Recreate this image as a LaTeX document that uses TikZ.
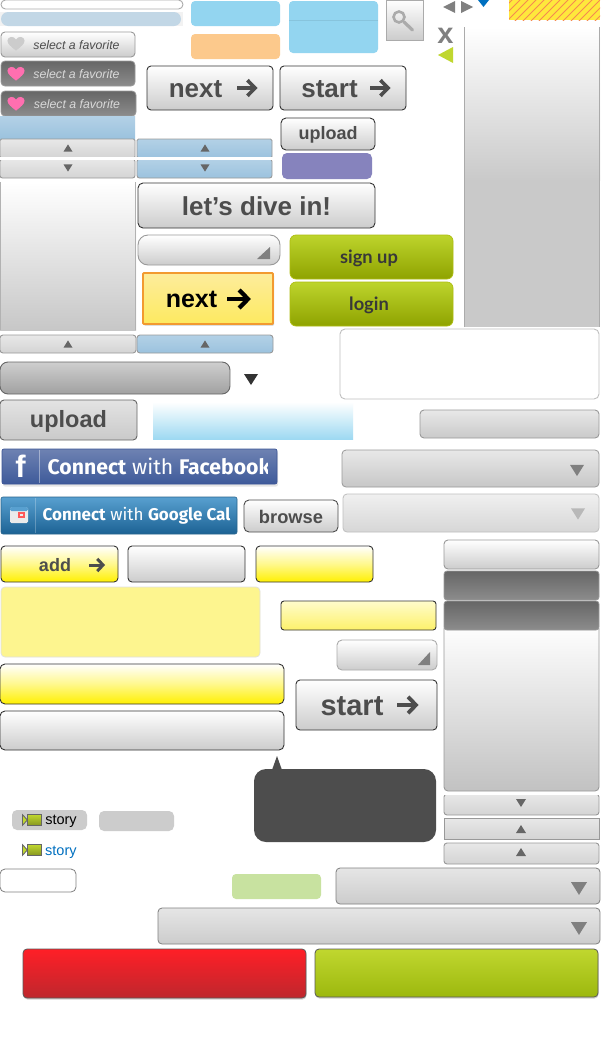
\documentclass[tikz,border=0pt]{standalone}
\usepackage{fontspec}
\setmainfont{Liberation Sans}
\newfontfamily\fira{Fira Sans}
\newfontfamily\lato{Lato}
\usetikzlibrary{shadows}
\definecolor{txtgray}{HTML}{4D4D4D}
\definecolor{edgegray}{HTML}{999999}
\definecolor{paleblue}{HTML}{93D5F0}
\definecolor{yel}{HTML}{FFF000}
\definecolor{lime}{HTML}{C0D72F}
\definecolor{bluetop}{HTML}{B3D1E6}
\definecolor{bluebot}{HTML}{9BC2DE}
\definecolor{pillblue}{HTML}{C2D7E6}
\definecolor{swor}{HTML}{FCC98C}
\definecolor{purp}{HTML}{8683BD}
\definecolor{heartpink}{HTML}{FF6FB0}
\definecolor{hatchy}{HTML}{FFE83C}
\definecolor{hatcho}{HTML}{F58A50}
\definecolor{navy}{HTML}{0070C0}
\definecolor{ytop}{HTML}{FDEC9C}
\definecolor{ybot}{HTML}{FDEA60}
\definecolor{oedge}{HTML}{F29A30}
\definecolor{grtop}{HTML}{BDD42C}
\definecolor{grbot}{HTML}{8FA300}
\definecolor{gredge}{HTML}{AEBD10}
\definecolor{fbtop}{HTML}{6E82B2}
\definecolor{fbbot}{HTML}{3E5A9A}
\definecolor{fbedge}{HTML}{3C5596}
\definecolor{gctop}{HTML}{58A0D0}
\definecolor{gcbot}{HTML}{1C6294}
\definecolor{gcedge}{HTML}{28648C}
\definecolor{paley}{HTML}{FDF58F}
\definecolor{yltop}{HTML}{FFFCCC}
\definecolor{ylbot}{HTML}{FDF16A}
\definecolor{swgr}{HTML}{C8E2A0}
\definecolor{redtop}{HTML}{FF1F27}
\definecolor{redbot}{HTML}{BE272D}
\definecolor{lgbot}{HTML}{9CB80E}
\tikzset{
  box/.style={anchor=north west,inner sep=0pt,outer sep=0pt,rounded corners=#1},
  box/.default=4pt,
  silver/.style={top color=white,bottom color=black!20,draw=black!80,line width=.9pt,text=txtgray},
  softsilver/.style={top color=white,bottom color=black!20,draw=edgegray,line width=.9pt,text=txtgray},
  darkbar/.style={top color=black!60,bottom color=black!45,draw=black!40,line width=.8pt},
  graybtn/.style={top color=black!9,bottom color=black!17,draw=edgegray,line width=.9pt},
  lightdrop/.style={top color=black!10,bottom color=black!20,draw=black!50,line width=.8pt},
  bluebtn/.style={top color=bluetop,bottom color=bluebot,draw=edgegray,line width=.9pt},
  yellowbtn/.style={top color=white,bottom color=yel,middle color=yel!45,draw=black!80,line width=.9pt,text=txtgray},
  greenbtn/.style={top color=grtop,bottom color=grbot,draw=gredge,line width=.7pt,font=\lato\bfseries\fontsize{18.3}{18.3}\selectfont,text=black!78},
  flat/.style={fill=#1,draw=none},
  lab/.style={font=\bfseries\fontsize{#1}{#1}\selectfont},
  favtxt/.style={font=\itshape\fontsize{12.3}{12.3}\selectfont},
  soc/.style={font=\fira\fontsize{#1}{#1}\selectfont,text=white},
}
\newcommand{\rb}[1]{\raisebox{0pt}[\dimexpr\height+2pt\relax][\depth]{#1}}
\newcommand{\bx}[7][4pt]{\node[box=#1,minimum width={(#5-#3)*1pt},minimum height={(#6-#4)*1pt},#7] (#2) at (#3,#4)}
\newcommand{\heartg}[4]{\fill[#4,shift={(#1,#2)},scale=#3] (0,7) .. controls (-5,3) and (-9,0) .. (-9,-3.5) .. controls (-9,-8) and (-2,-9) .. (0,-4.5) .. controls (2,-9) and (9,-8) .. (9,-3.5) .. controls (9,0) and (5,3) .. (0,7) -- cycle;}
\newcommand{\arrowg}[5]{\draw[#4,line width=#5,line cap=butt,miter limit=10] (#1-#3,#2) -- (#1+#3-1,#2);\draw[#4,line width=#5,line join=miter,miter limit=10] (#1+.1*#3,#2-.82*#3) -- (#1+#3-1,#2) -- (#1+.1*#3,#2+.82*#3);}
\newcommand{\triup}[4]{\fill[#4] (#1-#3,#2+.8*#3) -- (#1,#2-.8*#3) -- (#1+#3,#2+.8*#3) -- cycle;}
\newcommand{\tridn}[4]{\fill[#4] (#1-#3,#2-.8*#3) -- (#1,#2+.8*#3) -- (#1+#3,#2-.8*#3) -- cycle;}
\newcommand{\camera}[2]{\shade[top color=lime,bottom color=lime!70!black,draw=black!60,line width=.5pt] (#1+5,#2+1) rectangle (#1+19,#2+12);\fill[black!60] (#1,#2) -- (#1+6,#2+6.5) -- (#1,#2+13) -- cycle;\fill[lime] (#1+1,#2+2.5) -- (#1+4.5,#2+6.5) -- (#1+1,#2+10.5) -- cycle;}
\begin{document}
\begin{tikzpicture}[x=1pt,y=-1pt]
\useasboundingbox (0,0) rectangle (600,1039);
\fill[white] (0,0) rectangle (600,1039);
% top-left pills
\bx[4.5pt]{pillA}{1}{0}{183}{9}{draw=black!33,line width=.9pt,fill=white}{};
\fill[black!5] (0,12) rectangle (183,26);
\bx[7pt]{pillB}{1}{12}{181}{26}{flat=pillblue}{};
% favorites
\bx[4pt]{favA}{1}{32}{135}{57}{softsilver,favtxt}{\rb{\hspace*{17pt}select a favorite}};
\heartg{16}{44}{.95}{black!20}
\bx[4pt]{favB}{1}{61}{135}{86}{darkbar,favtxt,text=black!15}{\rb{\hspace*{17pt}select a favorite}};
\heartg{16}{74}{.95}{heartpink}
\bx[4pt]{favC}{1}{91}{136}{116}{darkbar,favtxt,text=black!15}{\rb{\hspace*{17pt}select a favorite}};
\heartg{16}{104}{.95}{heartpink}
% steppers
\bx[0pt]{blueTop}{0}{116}{135}{139}{top color=bluetop,bottom color=bluebot}{};
\bx[1.5pt]{grayUp}{0}{139}{135}{158}{graybtn}{};
\bx[2.5pt]{grayDn}{0}{159}{135}{178}{graybtn}{};
\bx[1.5pt]{blueUp}{137}{139}{272}{158}{bluebtn}{};
\bx[2.5pt]{blueDn}{137}{159}{272}{178}{bluebtn}{};
\fill[white] (-1,157) rectangle (273,160);
\triup{68}{148}{4.5}{black!60}\tridn{68}{168}{4.5}{black!60}
\triup{205}{148}{4.5}{black!60}\tridn{205}{168}{4.5}{black!60}
% flat swatches
\bx[4pt]{swBlue}{191}{1}{280}{26}{flat=paleblue}{};
\bx[4pt]{swOrange}{191}{34}{280}{59}{flat=swor}{};
\bx[4pt]{swBig}{289}{1}{378}{53}{flat=paleblue}{};
\draw[paleblue!92!black,line width=.4pt] (289,20) -- (378,20);
% next / start / upload
\bx[4pt]{next}{147}{66}{273}{110}{silver,lab=26}{\rb{next\hspace*{29pt}}};
\arrowg{246.5}{88}{9.5}{txtgray}{3.6pt}
\bx[4pt]{start}{280}{66}{406}{110}{silver,lab=26}{\rb{start\hspace*{27pt}}};
\arrowg{379.5}{88}{9.5}{txtgray}{3.6pt}
\bx[5pt]{uploadS}{281}{118}{375}{150}{silver,lab=18}{\rb{upload}};
\bx[5pt]{swPurple}{282}{153}{372}{179}{flat=purp}{};
% search
\bx[0pt]{search}{386}{0}{423}{40}{top color=white,bottom color=black!20,draw=black!33,line width=.9pt}{};
\draw[black!33,line width=2.6pt] (399,17) circle (5.5);
\draw[black!33,line width=3.2pt,line cap=round] (404,22) -- (412.5,30);
% small glyphs
\fill[black!50] (443,7) -- (455,1) -- (455,13) -- cycle;
\fill[black!50] (473,7) -- (461,1) -- (461,13) -- cycle;
\fill[navy] (478,0) -- (489,0) -- (483.5,7) -- cycle;
\begin{scope}
\clip (509,0) rectangle (600,20);
\fill[hatchy] (509,0) rectangle (600,20);
\foreach \i in {0,...,14}{\draw[hatcho,line width=.8pt] (490+\i*8,22) -- (514+\i*8,-2);}
\end{scope}
\node[font=\bfseries\fontsize{29}{29}\selectfont,text=black!50,inner sep=0pt] (closeX) at (445.5,36) {x};
\fill[lime] (438,55) -- (453,47) -- (453,63) -- cycle;
% right panel
\bx[0pt]{panelR}{464}{27}{600}{180}{top color=white,bottom color=black!21}{};
\fill[black!21] (464,180) rectangle (600,327);
\draw[black!33,line width=.7pt] (464.5,27) -- (464.5,327) (599.5,27) -- (599.5,327);
% left panel
\bx[0pt]{panelL}{0}{182}{136}{330}{top color=white,bottom color=black!22}{};
\draw[black!30,line width=.6pt] (.4,182) -- (.4,330) (135.6,182) -- (135.6,330);
% dive
\bx[5pt]{dive}{138}{183}{375}{228}{silver,lab=26}{\rb{let’s dive in!}};
\bx[10pt]{ddA}{138}{235}{280}{265}{softsilver}{};
\fill[black!50] (257,259) -- (270,259) -- (270,247) -- cycle;
\bx[1pt]{nextY}{143}{273}{273}{324}{top color=ytop,bottom color=ybot,draw=oedge,line width=1.8pt,lab=25,text=black,drop shadow={shadow xshift=1pt,shadow yshift=-1.5pt,opacity=.4}}{\rb{next\hspace*{33pt}}};
\arrowg{238}{299}{11}{black}{4.2pt}
\bx[6pt]{signup}{290}{235}{453}{279}{greenbtn}{\rb{sign up\hspace*{5pt}}};
\bx[6pt]{login}{290}{282}{453}{326}{greenbtn}{\rb{login\hspace*{5pt}}};
% low steppers
\bx[3pt]{grayUpB}{0}{335}{136}{353}{graybtn}{};
\bx[3pt]{blueUpB}{137}{335}{273}{353}{top color=bluetop,bottom color=bluebot,draw=edgegray,line width=.9pt}{};
\triup{68}{344}{4.5}{black!60}\triup{205}{344}{4.5}{black!60}
% gray pill
\bx[8pt]{pillG}{0}{362}{230}{394}{top color=black!19,bottom color=black!37,draw=black!60,line width=.9pt}{};
\fill[black!80] (244,374) -- (258,374) -- (251,385) -- cycle;
\bx[5pt]{textbox}{340}{329}{599}{399}{draw=black!25,line width=.9pt,fill=white}{};
% upload row
\bx[4pt]{uploadB}{0}{400}{137}{440}{top color=black!11,bottom color=black!21,draw=black!60,line width=.9pt,lab=23.5,text=txtgray}{\rb{upload}};
\bx[0pt]{glow}{153}{402}{353}{439}{top color=white,bottom color=paleblue!90!white}{};
\bx[4pt]{ddB}{420}{410}{599}{438}{top color=black!9,bottom color=black!21,draw=edgegray,line width=.9pt}{};
% facebook
\bx[2pt]{fb}{2}{449}{277}{484}{top color=fbtop,bottom color=fbbot,draw=fbedge,line width=.7pt,drop shadow={shadow xshift=1pt,shadow yshift=-2.5pt,opacity=.2}}{};
\draw[white,opacity=.4,line width=.7pt] (39.5,450) -- (39.5,483);
\node[font=\bfseries\fontsize{31}{31}\selectfont,text=white,inner sep=0pt] (fbF) at (20.5,466.5) {f};
\begin{scope}
\clip (40,450) rectangle (267,483);
\node[soc=21.2,inner sep=0pt,anchor=west] (fbT) at (47.5,466.5) {\textbf{Connect} with \textbf{Facebook}};
\end{scope}
% google
\bx[2pt]{gc}{1}{497}{237}{534}{top color=gctop,bottom color=gcbot,draw=gcedge,line width=.6pt}{};
\draw[white,opacity=.25,line width=.7pt] (35.5,498) -- (35.5,533);
\fill[black!8,rounded corners=1.5pt] (10,507) rectangle (28,523);
\fill[gctop,rounded corners=1.5pt] (10,507) rectangle (28,511);
\fill[red!65!white] (18,512) rectangle (25,518);
\fill[black!8] (20,514) rectangle (23,516);
\node[soc=17,inner sep=0pt,anchor=west] (gcT) at (42.5,515.5) {\textbf{Connect} with \textbf{Google Cal}};
\bx[5pt]{browse}{244}{500}{338}{532}{top color=white,bottom color=black!20,draw=black!70,line width=.9pt,text=txtgray,lab=18.3}{\rb{browse}};
\bx[4pt]{ddC}{342}{450}{599}{487}{top color=black!9,bottom color=black!22,draw=black!40,line width=.8pt}{};
\tridn{577}{470.5}{7}{black!50}
\bx[4pt]{ddD}{343}{494}{599}{532}{top color=black!6,bottom color=black!16,draw=black!25,line width=.8pt}{};
\tridn{578}{514}{7}{black!28}
% add row
\bx[4pt]{add}{1}{546}{118}{582}{yellowbtn,lab=18}{\rb{add\hspace*{9pt}}};
\arrowg{96.5}{565}{7.5}{txtgray}{3pt}
\bx[4pt]{plainA}{128}{546}{245}{582}{silver}{};
\bx[4pt]{yelA}{256}{546}{373}{582}{yellowbtn}{};
\bx[4pt]{pale}{1}{587}{260}{657}{fill=paley,draw=black!12,line width=.7pt}{};
\bx[3pt]{yelB}{281}{601}{436}{630}{top color=yltop,bottom color=ylbot,draw=black!80,line width=.9pt}{};
\bx[5pt]{ddE}{337}{640}{437}{670}{softsilver,draw=black!33}{};
\fill[black!50] (418,665) -- (430,665) -- (430,652) -- cycle;
\bx[5pt]{yelC}{0}{664}{284}{704}{yellowbtn}{};
\bx[5pt]{plainB}{0}{711}{284}{750}{silver}{};
\bx[4pt]{startB}{296}{680}{437}{730}{silver,lab=29}{\rb{start\hspace*{29pt}}};
\arrowg{407}{705}{10}{txtgray}{3.8pt}
% bubble
\bx[12pt]{bubble}{254}{769}{436}{842}{flat=txtgray}{};
\fill[txtgray] (272,770) -- (277,756) -- (282,770) -- cycle;
% right stack
\bx[4pt]{stA}{444}{540}{599}{569}{softsilver}{};
\bx[3pt]{stB}{444}{571}{599}{600}{darkbar}{};
\bx[4pt]{stD}{444}{625}{599}{791}{softsilver,top color=white,bottom color=black!24}{};
\bx[3pt]{stC}{444}{601}{599}{630}{darkbar}{};
\bx[3pt]{stE}{444}{794}{599}{815}{graybtn}{};
\fill[white] (443,792) rectangle (600,795);
\tridn{521}{803}{5}{black!60}
\bx[0pt]{stF}{444}{818}{599}{839}{graybtn}{};
\triup{521}{829}{5}{black!60}
\bx[3pt]{stG}{444}{843}{599}{864}{graybtn}{};
\triup{521}{852}{5}{black!60}
% story
\bx[5pt]{storyA}{12}{810}{87}{830}{flat=black!20,font=\fontsize{14.5}{14.5}\selectfont}{\raisebox{0pt}[\dimexpr\height+3pt\relax][\depth]{\hspace*{23pt}story}};
\camera{22}{813.5}
\bx[5pt]{storyB}{99}{811}{174}{831}{flat=black!20}{};
\node[font=\fontsize{14.5}{14.5}\selectfont,text=navy,inner sep=0pt,anchor=west] (storyC) at (45,852) {story};
\camera{22}{843.5}
\bx[5pt]{blank}{0}{869}{76}{892}{draw=black!50,line width=.8pt,fill=white}{};
\bx[4pt]{swGreen}{232}{874}{321}{899}{flat=swgr}{};
\bx[4pt]{ddF}{336}{868}{600}{904}{lightdrop}{};
\tridn{579}{888.5}{8}{black!50}
\bx[4pt]{ddG}{158}{908}{600}{944}{lightdrop}{};
\tridn{579}{928.5}{8}{black!50}
% big buttons
\bx[4pt]{red}{23}{949}{306}{998}{top color=redtop,middle color=redtop,bottom color=redbot,draw=black!65,line width=.8pt,drop shadow={shadow xshift=.5pt,shadow yshift=-1.5pt,opacity=.35}}{};
\bx[4pt]{green}{315}{949}{598}{997}{top color=lime,middle color=lime,bottom color=lgbot,draw=black!65,line width=.8pt,drop shadow={shadow xshift=.5pt,shadow yshift=-1.5pt,opacity=.35}}{};
\end{tikzpicture}
\end{document}
